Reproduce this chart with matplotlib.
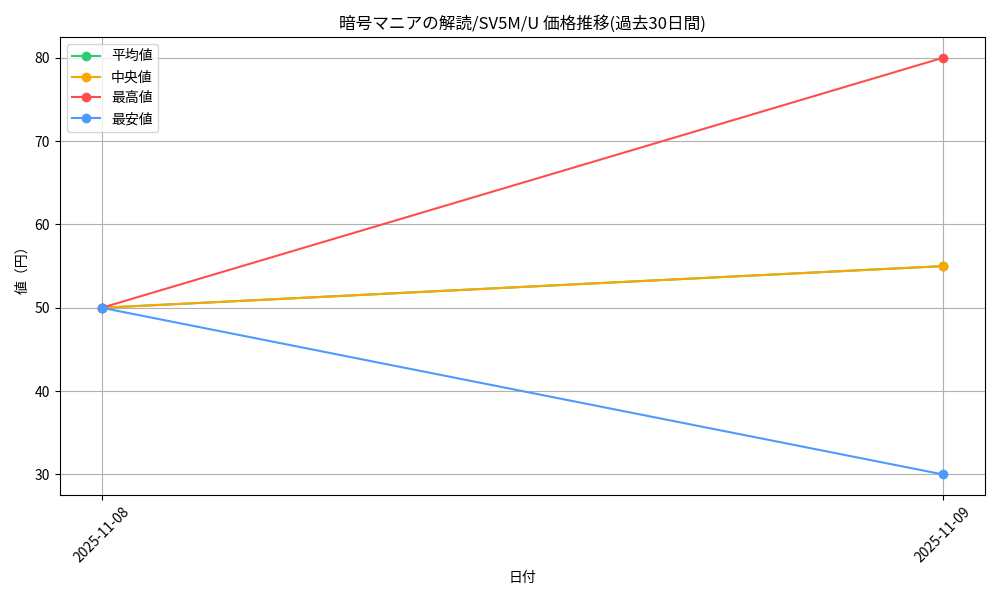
import matplotlib
matplotlib.use('Agg')
import matplotlib.pyplot as plt

plt.rcParams['font.family'] = ['Noto Sans CJK JP', 'DejaVu Sans']

# price history (yen)
dates = ['2025-11-08', '2025-11-09']
avg_prices = [50, 55]
median_prices = [50, 55]
max_prices = [50, 80]
min_prices = [50, 30]

fig, ax = plt.subplots(figsize=(10, 6))

ax.plot(dates, avg_prices, marker='o', color='#2ecc71', label='平均値')
ax.plot(dates, median_prices, marker='o', color='#ffa500', label='中央値')
ax.plot(dates, max_prices, marker='o', color='#ff4d4d', label='最高値')
ax.plot(dates, min_prices, marker='o', color='#4d9aff', label='最安値')

ax.set_title('暗号マニアの解読/SV5M/U 価格推移(過去30日間)')
ax.set_xlabel('日付')
ax.set_ylabel('値（円）')
ax.grid(True)
ax.legend(loc='upper left')
plt.xticks(rotation=45)

fig.tight_layout()
plt.savefig('out.png', dpi=100)
